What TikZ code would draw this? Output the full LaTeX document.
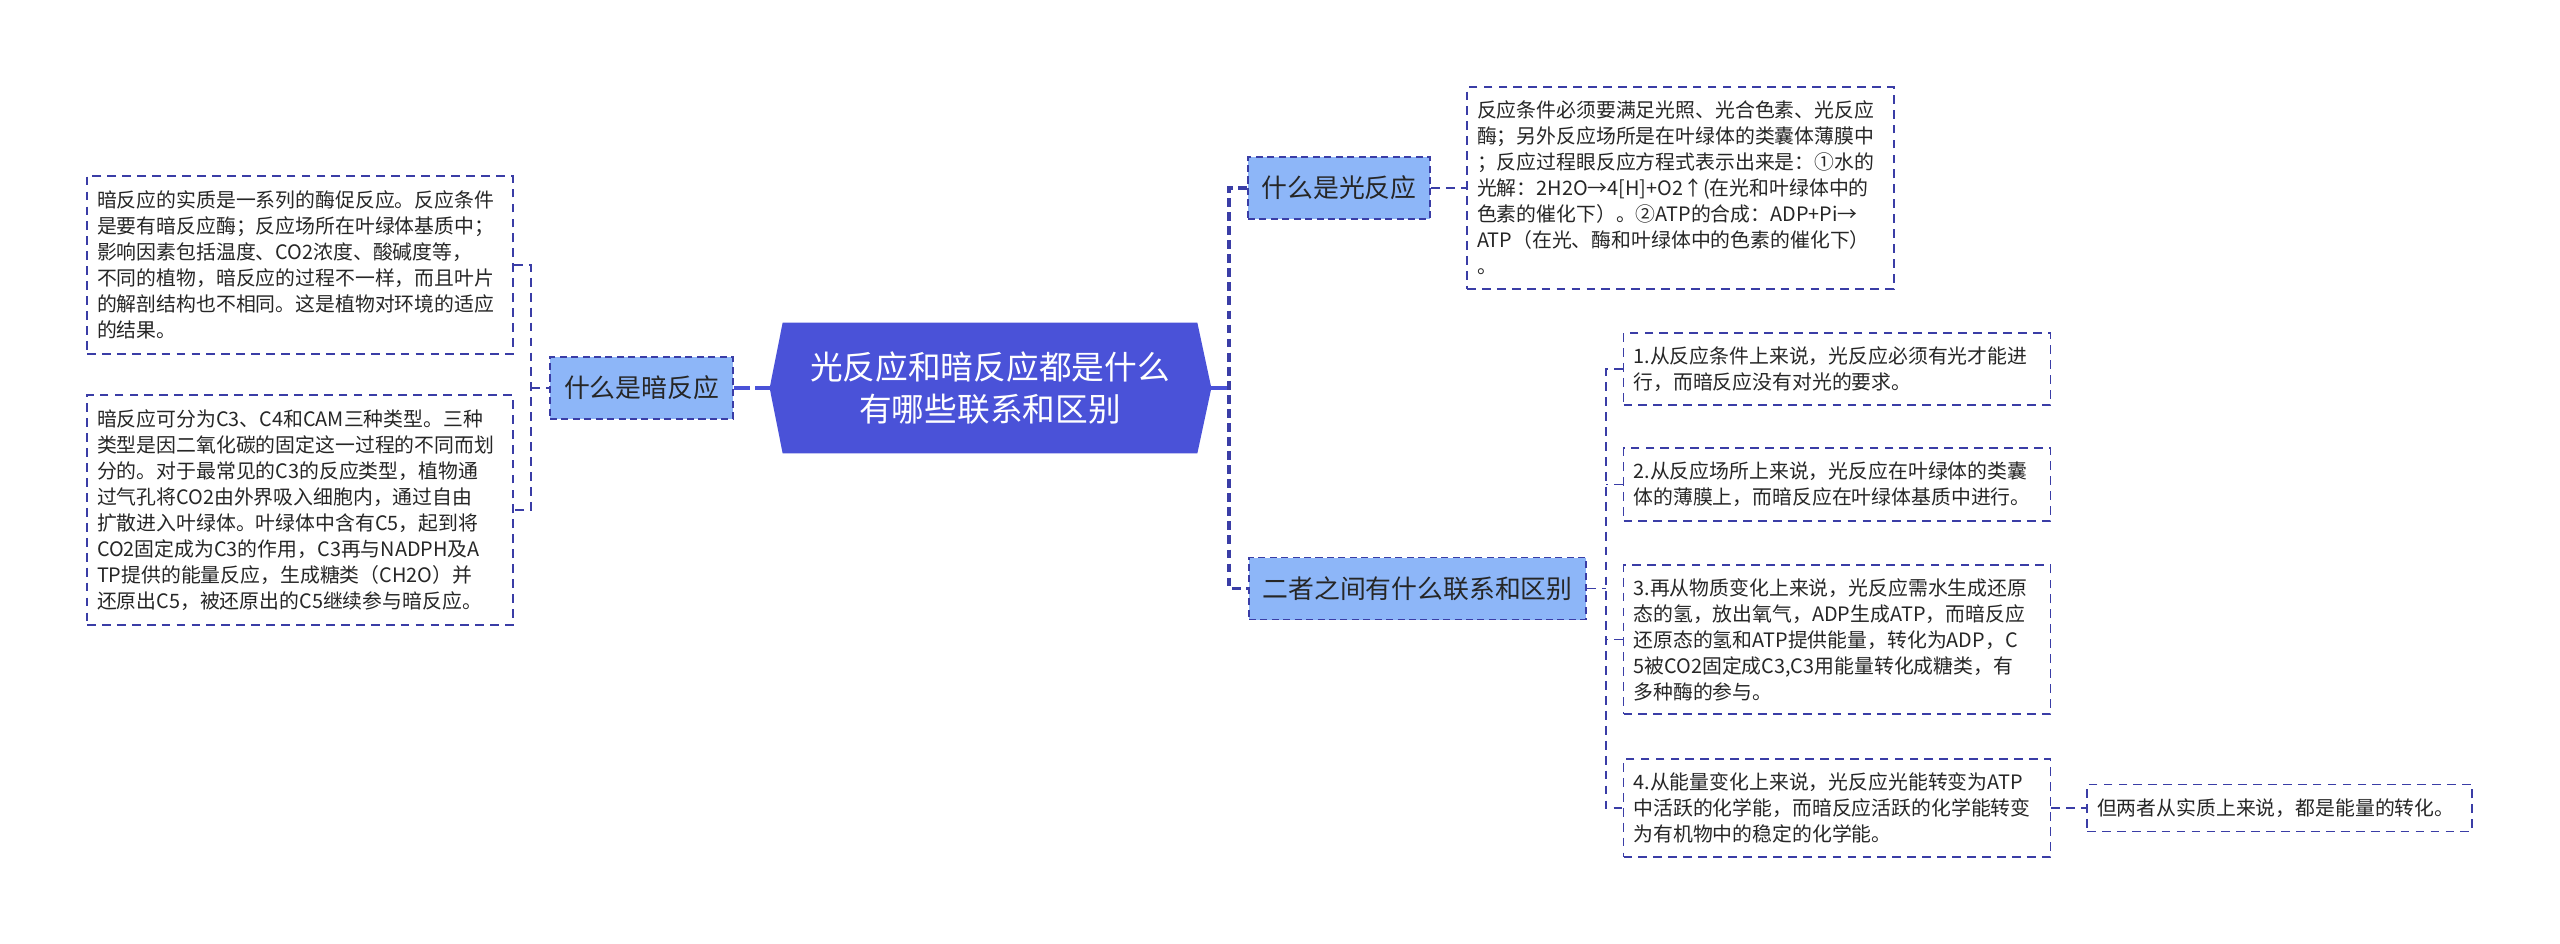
\documentclass[tikz,border=0pt]{standalone}
\usepackage{fontspec}
\setmainfont{Noto Sans CJK SC}
\usetikzlibrary{backgrounds}
\definecolor{lineblue}{HTML}{3A3DA6}
\definecolor{rootblue}{HTML}{4A52D8}
\definecolor{topicblue}{HTML}{8DB6F8}
\definecolor{textgray}{HTML}{262626}
\begin{document}
\begin{tikzpicture}[
    leafbox/.style={draw=lineblue, line width=1.1pt, dash pattern=on 5pt off 3.5pt, text=textgray, align=left, inner xsep=0.2cm, font=\fontsize{11.3}{14.8}\selectfont},
    topicbox/.style={draw=lineblue, line width=1.1pt, dash pattern=on 4pt off 2.5pt, fill=topicblue, text=textgray, minimum height=1.24cm, font=\fontsize{14.7}{18}\selectfont},
    rootbox/.style={text=white, align=center, minimum width=8.28cm, minimum height=2.6cm, font=\fontsize{18.6}{24}\selectfont},
    trunk/.style={draw=lineblue, line width=1.8pt, dash pattern=on 5pt off 3pt},
    twig/.style={draw=lineblue, line width=1.1pt, dash pattern=on 5pt off 3.5pt},
    stem/.style={draw=rootblue, line width=1.8pt}
]
    \useasboundingbox (0,0) rectangle (51.2,-18.88);

    % Centre
    \node[rootbox] (root) at (19.80,-7.76) {光反应和暗反应都是什么\\有哪些联系和区别};
    \coordinate (rootL) at ([xshift=-0.26cm]root.west);
    \coordinate (rootR) at ([xshift=0.28cm]root.east);
    \begin{scope}[on background layer]
        \fill[rootblue] (root.north west) -- (rootL) -- (root.south west) -- (root.south east) -- (rootR) -- (root.north east) -- cycle;
    \end{scope}

    % Themes
    \node[topicbox, minimum width=3.66cm] (darkq) at (12.83,-7.76) {什么是暗反应};
    \node[topicbox, minimum width=3.64cm] (lightq) at (26.78,-3.76) {什么是光反应};
    \node[topicbox, minimum width=6.74cm] (diffq) at (28.35,-11.77) {二者之间有什么联系和区别};

    % Feuilles gauche
    \node[leafbox, text width=8.12cm, minimum height=3.56cm] (darkleaf1) at (6.0,-5.3) {暗反应的实质是一系列的酶促反应。反应条件\\是要有暗反应酶；反应场所在叶绿体基质中；\\影响因素包括温度、CO2浓度、酸碱度等，\\不同的植物，暗反应的过程不一样，而且叶片\\的解剖结构也不相同。这是植物对环境的适应\\的结果。};
    \node[leafbox, text width=8.12cm, minimum height=4.6cm] (darkleaf2) at (6.0,-10.2) {暗反应可分为C3、C4和CAM三种类型。三种\\类型是因二氧化碳的固定这一过程的不同而划\\分的。对于最常见的C3的反应类型，植物通\\过气孔将CO2由外界吸入细胞内，通过自由\\扩散进入叶绿体。叶绿体中含有C5，起到将\\CO2固定成为C3的作用，C3再与NADPH及A\\TP提供的能量反应，生成糖类（CH2O）并\\还原出C5，被还原出的C5继续参与暗反应。};

    % Feuilles droite
    \node[leafbox, text width=8.14cm, minimum height=4.04cm] (lightleaf) at (33.61,-3.76) {反应条件必须要满足光照、光合色素、光反应\\酶；另外反应场所是在叶绿体的类囊体薄膜中\\；反应过程眼反应方程式表示出来是：①水的\\光解：2H2O→4[H]+O2↑(在光和叶绿体中的\\色素的催化下）。②ATP的合成：ADP+Pi→\\ATP（在光、酶和叶绿体中的色素的催化下）\\。};
    \node[leafbox, text width=8.14cm, minimum height=1.44cm] (diff1) at (36.74,-7.38) {1.从反应条件上来说，光反应必须有光才能进\\行，而暗反应没有对光的要求。};
    \node[leafbox, text width=8.14cm, minimum height=1.46cm] (diff2) at (36.74,-9.69) {2.从反应场所上来说，光反应在叶绿体的类囊\\体的薄膜上，而暗反应在叶绿体基质中进行。};
    \node[leafbox, text width=8.14cm, minimum height=2.98cm] (diff3) at (36.74,-12.79) {3.再从物质变化上来说，光反应需水生成还原\\态的氢，放出氧气，ADP生成ATP，而暗反应\\还原态的氢和ATP提供能量，转化为ADP，C\\5被CO2固定成C3,C3用能量转化成糖类，有\\多种酶的参与。};
    \node[leafbox, text width=8.14cm, minimum height=1.96cm] (diff4) at (36.74,-16.16) {4.从能量变化上来说，光反应光能转变为ATP\\中活跃的化学能，而暗反应活跃的化学能转变\\为有机物中的稳定的化学能。};
    \node[leafbox, text width=7.30cm, minimum height=0.94cm] (extra) at (45.59,-16.16) {但两者从实质上来说，都是能量的转化。};

    % Jonctions
    \coordinate (ljoint) at (10.62,-7.76);
    \coordinate (rjoint) at (24.58,-7.76);
    \coordinate (djoint) at (32.12,-11.77);

    % Liens
    \draw[stem, dash pattern=on 9pt off 3pt] (darkq.east) -- (rootL);
    \draw[stem] (rootR) -- (rjoint);
    \draw[trunk] (lightq.west) -| (rjoint) |- (diffq.west);
    \draw[twig] (darkleaf1.east) -| (ljoint) |- (darkleaf2.east);
    \draw[twig] (ljoint) -- (darkq.west);
    \draw[twig] (lightq.east) -- (lightleaf.west);
    \draw[twig] (diffq.east) -- (djoint);
    \draw[twig] (diff1.west) -| (djoint) |- (diff4.west);
    \draw[twig] (diff2.west) -- (diff2.west -| djoint);
    \draw[twig] (diff3.west) -- (diff3.west -| djoint);
    \draw[twig] (diff4.east) -- (extra.west);
\end{tikzpicture}
\end{document}
